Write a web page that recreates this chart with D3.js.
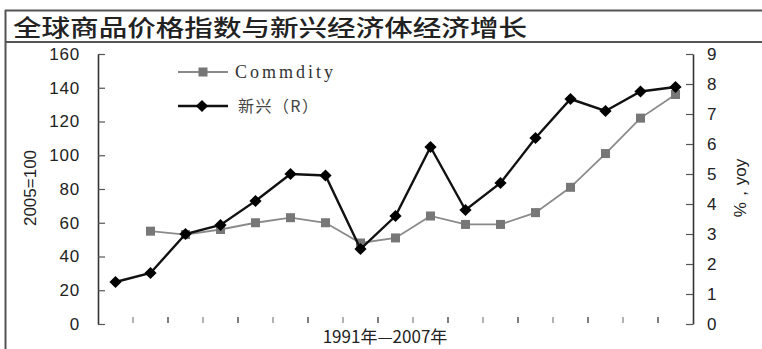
<!DOCTYPE html>
<html>
<head>
<meta charset="utf-8">
<script src="https://cdn.jsdelivr.net/npm/d3@7"></script>
<style>
  html, body { margin: 0; padding: 0; background: #fff; }
  svg { display: block; }
</style>
</head>
<body>
<svg id="chart" width="762" height="349"></svg>
<script>
// Years 1991–2007
const years = d3.range(1991, 2008);
// Global commodity price index (2005=100), left axis; series starts in 1992
const commodity = [null, 55, 53, 56, 60, 63, 60, 48, 51, 64, 59, 59, 66, 81, 101, 122, 136];
// Emerging-economy GDP growth (% yoy), right axis
const emGrowth = [1.4, 1.7, 3.0, 3.3, 4.1, 5.0, 4.95, 2.5, 3.6, 5.9, 3.8, 4.7, 6.2, 7.5, 7.1, 7.75, 7.9];
const leftTicks = [0, 20, 40, 60, 80, 100, 120, 140, 160];
const rightTicks = [0, 1, 2, 3, 4, 5, 6, 7, 8, 9];
const titleText = "全球商品价格指数与新兴经济体经济增长";
const legendLabels = ["Commdity", "新兴（R）"];
const xLabel = "1991年—2007年";

const svg = d3.select("#chart");
const W = 762, H = 349;
const plot = { left: 98, right: 693, top: 54, bottom: 324 };

const x = d3.scaleBand().domain(years).range([plot.left, plot.right]);
const yL = d3.scaleLinear().domain([0, 160]).range([plot.bottom, plot.top]);
const yR = d3.scaleLinear().domain([0, 9]).range([plot.bottom, plot.top]);
const cx = d => x(d) + x.bandwidth() / 2;

// Frame and title bar
const frame = "#555";
svg.append("line").attr("x1", 5.5).attr("x2", 5.5).attr("y1", 10).attr("y2", H)
  .attr("stroke", frame).attr("stroke-width", 2);
svg.append("line").attr("x1", 5).attr("x2", W).attr("y1", 10.5).attr("y2", 10.5)
  .attr("stroke", frame).attr("stroke-width", 2);
svg.append("line").attr("x1", 5).attr("x2", W).attr("y1", 42).attr("y2", 42)
  .attr("stroke", frame).attr("stroke-width", 2);
svg.append("text").attr("x", 13).attr("y", 36)
  .attr("font-family", "Noto Sans CJK SC").attr("font-size", 23).attr("font-weight", 500)
  .attr("fill", "#222").attr("textLength", 514).attr("lengthAdjust", "spacingAndGlyphs")
  .text(titleText);

const tickFont = "Liberation Sans, Arial, sans-serif";

// Left axis (ticks point inward)
const axL = d3.axisLeft(yL).tickValues(leftTicks).tickSize(-7).tickPadding(18).tickSizeOuter(0);
const gL = svg.append("g").attr("transform", `translate(${plot.left},0)`).call(axL);
// Right axis (ticks point inward)
const axR = d3.axisRight(yR).tickValues(rightTicks).tickSize(-7).tickPadding(14).tickSizeOuter(0);
const gR = svg.append("g").attr("transform", `translate(${plot.right},0)`).call(axR);
[gL, gR].forEach(g => {
  g.select(".domain").attr("stroke", "#333").attr("stroke-width", 1.6);
  g.selectAll(".tick line").attr("stroke", "#555").attr("stroke-width", 1.2);
  g.selectAll(".tick text").attr("font-family", tickFont).attr("font-size", 17)
    .attr("fill", "#222").attr("letter-spacing", "0.8px");
});

// Category boundary marks along the bottom
const bounds = years.slice(1).map(d => x(d));
svg.append("g").selectAll("line").data(bounds).join("line")
  .attr("x1", d => d).attr("x2", d => d).attr("y1", 317).attr("y2", 323)
  .attr("stroke", (d, i) => i % 2 ? "#555" : "#999").attr("stroke-width", 1.5);

// Commodity line (left axis)
const comPts = years.map((d, i) => ({ year: d, v: commodity[i] })).filter(p => p.v != null);
svg.append("path").datum(comPts)
  .attr("fill", "none").attr("stroke", "#8a8a8a").attr("stroke-width", 1.8)
  .attr("d", d3.line().x(p => cx(p.year)).y(p => yL(p.v)));
svg.append("g").selectAll("rect").data(comPts).join("rect")
  .attr("x", p => cx(p.year) - 4.5).attr("y", p => yL(p.v) - 4.5)
  .attr("width", 9).attr("height", 9).attr("fill", "#777");

// Emerging-economy growth line (right axis)
const emPts = years.map((d, i) => ({ year: d, v: emGrowth[i] }));
svg.append("path").datum(emPts)
  .attr("fill", "none").attr("stroke", "#111").attr("stroke-width", 2.4)
  .attr("d", d3.line().x(p => cx(p.year)).y(p => yR(p.v)));
const diamond = d3.symbol().type(d3.symbolDiamond2).size(95);
svg.append("g").selectAll("path").data(emPts).join("path")
  .attr("transform", p => `translate(${cx(p.year)},${yR(p.v)})`)
  .attr("d", diamond).attr("fill", "#000");

// Legend
const lg = svg.append("g");
lg.append("line").attr("x1", 178).attr("x2", 228).attr("y1", 72).attr("y2", 72)
  .attr("stroke", "#8a8a8a").attr("stroke-width", 1.8);
lg.append("rect").attr("x", 198.5).attr("y", 67.5).attr("width", 9).attr("height", 9).attr("fill", "#777");
lg.append("text").attr("x", 235).attr("y", 78)
  .attr("font-family", "Liberation Serif, serif").attr("font-size", 18).attr("fill", "#333")
  .attr("textLength", 98).attr("lengthAdjust", "spacing").text(legendLabels[0]);
lg.append("line").attr("x1", 178).attr("x2", 228).attr("y1", 106).attr("y2", 106)
  .attr("stroke", "#111").attr("stroke-width", 2.4);
lg.append("path").attr("transform", "translate(202,106)").attr("d", diamond).attr("fill", "#000");
lg.append("text").attr("x", 238).attr("y", 112)
  .attr("font-family", "Noto Sans CJK SC").attr("font-size", 16).attr("fill", "#444")
  .attr("textLength", 80).attr("lengthAdjust", "spacing").text(legendLabels[1]);

// Axis titles
svg.append("text").attr("transform", "translate(36,188) rotate(-90)")
  .attr("text-anchor", "middle").attr("font-family", tickFont).attr("font-size", 17)
  .attr("fill", "#222").text("2005=100");
svg.append("text").attr("transform", "translate(746,188) rotate(-90)")
  .attr("text-anchor", "middle").attr("font-family", tickFont).attr("font-size", 17)
  .attr("fill", "#222").text("%，yoy");
svg.append("text").attr("x", 385).attr("y", 343).attr("text-anchor", "middle")
  .attr("font-family", "Noto Sans CJK SC").attr("font-size", 17).attr("fill", "#222")
  .text(xLabel);
</script>
</body>
</html>
